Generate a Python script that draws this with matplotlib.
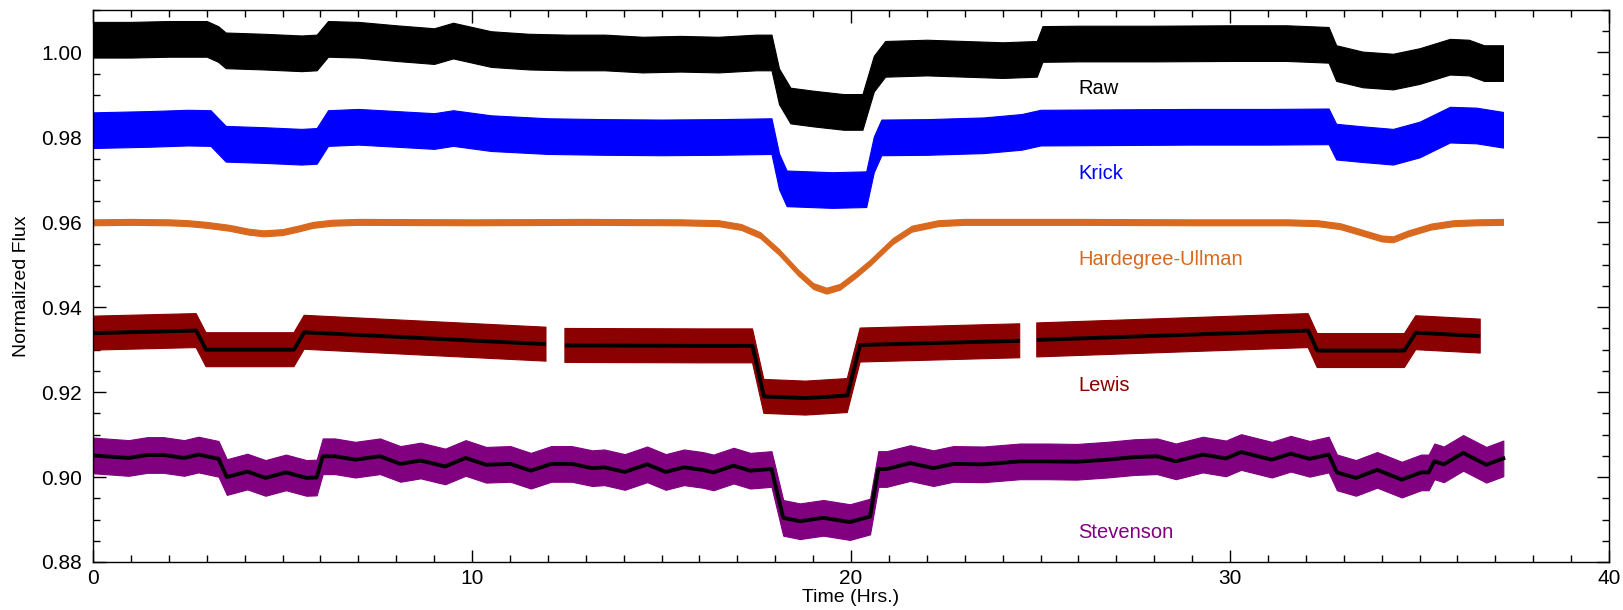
import numpy as np
import matplotlib
matplotlib.use("Agg")
import matplotlib.pyplot as plt
from matplotlib.ticker import MultipleLocator, FormatStrFormatter

plt.rcParams["font.family"] = ["Liberation Sans", "DejaVu Sans"]

# ---- light-curve bands: knot times (hr), band centre flux, band half-width ----
raw_t = [0.0, 1.0, 2.0, 3.0, 3.3, 3.5, 4.5, 5.5, 5.9, 6.2, 7.0, 8.0, 9.0, 9.5,
         10.5, 11.5, 12.5, 13.5, 14.5, 15.5, 16.5, 17.5, 17.9, 18.1, 18.4, 19.0,
         19.8, 20.3, 20.6, 20.9, 22.0, 23.0, 24.0, 24.9, 25.05, 26.0, 28.0, 30.0,
         31.5, 32.6, 32.8, 33.5, 34.3, 35.0, 35.8, 36.3, 36.7, 37.2]
raw_f = [1.0030, 1.0030, 1.0032, 1.0032, 1.0020, 1.0005, 1.0002, 0.9998, 1.0000,
         1.0032, 1.0030, 1.0022, 1.0015, 1.0028, 1.0008, 1.0002, 1.0000, 1.0000,
         0.9995, 0.9997, 0.9995, 1.0000, 1.0000, 0.9920, 0.9875, 0.9868, 0.9860,
         0.9860, 0.9950, 0.9985, 0.9988, 0.9985, 0.9982, 0.9985, 1.0020, 1.0021,
         1.0021, 1.0022, 1.0022, 1.0018, 0.9975, 0.9960, 0.9955, 0.9968, 0.9990,
         0.9988, 0.9975, 0.9975]
raw_w = 0.0042

krick_t = [0.0, 1.5, 2.5, 3.1, 3.5, 4.5, 5.5, 5.9, 6.2, 7.0, 8.0, 9.0, 9.5, 10.5,
           12.0, 13.5, 15.0, 16.5, 17.9, 18.1, 18.3, 19.5, 20.4, 20.6, 20.8, 22.0,
           23.5, 24.5, 25.0, 27.0, 29.0, 31.0, 32.6, 32.8, 33.5, 34.3, 35.0, 35.8,
           36.5, 37.2]
krick_f = [0.9817, 0.9820, 0.9823, 0.9822, 0.9785, 0.9782, 0.9778, 0.9780, 0.9822,
           0.9825, 0.9820, 0.9815, 0.9822, 0.9810, 0.9803, 0.9801, 0.9800, 0.9801,
           0.9803, 0.9720, 0.9680, 0.9676, 0.9678, 0.9760, 0.9800, 0.9801, 0.9805,
           0.9813, 0.9823, 0.9824, 0.9825, 0.9825, 0.9826, 0.9790, 0.9784, 0.9778,
           0.9795, 0.9830, 0.9828, 0.9818]
krick_w = 0.0042

hu_t = [0.0, 1.0, 2.0, 2.5, 3.0, 3.6, 4.1, 4.5, 5.0, 5.4, 5.8, 6.3, 7.0, 10.0,
        13.0, 15.5, 16.5, 17.1, 17.6, 18.1, 18.6, 19.0, 19.35, 19.7, 20.1, 20.5,
        21.1, 21.6, 22.3, 23.0, 26.0, 29.0, 31.5, 32.3, 32.9, 33.4, 34.0, 34.3,
        34.7, 35.3, 35.9, 36.5, 37.2]
hu_f = [0.9600, 0.9601, 0.9600, 0.9598, 0.9594, 0.9587, 0.9578, 0.9574, 0.9577,
        0.9585, 0.9594, 0.9599, 0.9601, 0.9600, 0.9601, 0.9600, 0.9598, 0.9589,
        0.9570, 0.9530, 0.9482, 0.9450, 0.9439, 0.9448, 0.9475, 0.9505, 0.9556,
        0.9585, 0.9598, 0.9601, 0.9601, 0.9600, 0.9600, 0.9598, 0.9591, 0.9578,
        0.9562, 0.9560, 0.9574, 0.9590, 0.9598, 0.9600, 0.9601]
hu_w = 0.0007

# Lewis: NaN rows mark the data gaps
lewis_t = [0.0, 2.72, 2.98, 5.30, 5.57, 11.95, 12.2, 12.45, 16.0, 17.4, 17.7, 18.8,
           19.9, 20.24, 24.45, 24.7, 24.9, 32.06, 32.3, 34.6, 34.9, 36.6]
lewis_f = [0.9339, 0.9345, 0.9300, 0.9300, 0.9341, 0.9313, np.nan, 0.9310, 0.9309,
           0.9309, 0.9190, 0.9186, 0.9192, 0.9311, 0.9321, np.nan, 0.9323, 0.9345,
           0.9298, 0.9298, 0.9340, 0.9332]
lewis_w = 0.0040

stev_t = [0.0, 0.94, 1.43, 1.86, 2.40, 2.78, 3.31, 3.53, 4.07, 4.55, 5.09, 5.63,
          5.90, 6.06, 6.38, 6.92, 7.57, 8.11, 8.64, 9.29, 9.83, 10.37, 11.01, 11.55,
          12.09, 12.63, 13.17, 13.49, 14.03, 14.62, 15.11, 15.59, 16.08, 16.37,
          16.9, 17.34, 17.9, 18.21, 18.65, 19.27, 19.97, 20.50, 20.72, 20.94, 21.56,
          22.17, 22.7, 23.5, 24.46, 25.2, 25.95, 26.76, 27.47, 28.07, 28.57, 29.28,
          29.89, 30.29, 31.1, 31.6, 32.1, 32.6, 32.82, 33.32, 33.88, 34.53, 35.04,
          35.24, 35.39, 35.64, 36.15, 36.76, 37.21]
stev_f = [0.9051, 0.9045, 0.9052, 0.9052, 0.9045, 0.9053, 0.9043, 0.9000, 0.9013,
          0.8998, 0.9011, 0.8998, 0.8999, 0.9049, 0.9049, 0.9041, 0.9049, 0.9031,
          0.9039, 0.9025, 0.9045, 0.9029, 0.9031, 0.9015, 0.9031, 0.9031, 0.9021,
          0.9023, 0.9012, 0.9030, 0.9012, 0.9023, 0.9017, 0.9011, 0.9027, 0.9015,
          0.9019, 0.8904, 0.8896, 0.8904, 0.8894, 0.8907, 0.9019, 0.9019, 0.9033,
          0.9021, 0.9031, 0.9030, 0.9037, 0.9037, 0.9036, 0.9041, 0.9047, 0.9049,
          0.9037, 0.9053, 0.9044, 0.9059, 0.9041, 0.9055, 0.9043, 0.9053, 0.9011,
          0.8998, 0.9017, 0.8994, 0.9011, 0.9011, 0.9037, 0.9030, 0.9057, 0.9029,
          0.9044]
stev_w = 0.0042

names = ["Raw", "Krick", "Hardegree-Ullman", "Lewis", "Stevenson"]
label_y = [0.9915, 0.9716, 0.9513, 0.9215, 0.8869]
label_x = 26.0
colors = ["black", "#0000ff", "#d9691e", "#8b0000", "#800080"]

fig = plt.figure(figsize=(16.24, 6.10), dpi=100)
ax = fig.add_axes([0.0573, 0.0787, 0.9335, 0.9049])

bands = [(raw_t, raw_f, raw_w), (krick_t, krick_f, krick_w), (hu_t, hu_f, hu_w),
         (lewis_t, lewis_f, lewis_w), (stev_t, stev_f, stev_w)]
for (t, f, w), c in zip(bands, colors):
    t = np.array(t)
    f = np.array(f, dtype=float)
    ax.fill_between(t, f - w, f + w, color=c, lw=0.8, edgecolor=c, zorder=2)

# model fits
ax.plot(lewis_t, lewis_f, color="black", lw=2.8, zorder=3, solid_capstyle="butt")
ax.plot(stev_t, stev_f, color="black", lw=2.8, zorder=3, solid_joinstyle="round")

for name, y, c in zip(names, label_y, colors):
    ax.text(label_x, y, name, color=c, fontsize=14.5, ha="left", va="center")

ax.set_xlim(0, 40)
ax.set_ylim(0.88, 1.01)
ax.xaxis.set_major_locator(MultipleLocator(10))
ax.xaxis.set_minor_locator(MultipleLocator(1))
ax.yaxis.set_major_locator(MultipleLocator(0.02))
ax.yaxis.set_minor_locator(MultipleLocator(0.005))
ax.yaxis.set_major_formatter(FormatStrFormatter("%.2f"))
ax.tick_params(which="both", direction="in", top=True, right=True, width=1.0,
               labelsize=15)
ax.tick_params(which="major", length=9)
ax.tick_params(which="minor", length=5)
ax.tick_params(axis="y", pad=8)
ax.tick_params(axis="x", pad=5)
for s in ax.spines.values():
    s.set_linewidth(1.0)

ax.set_xlabel("Time (Hrs.)", fontsize=14, labelpad=1)
ax.set_ylabel("Normalized Flux", fontsize=14, labelpad=8)

fig.savefig("out.png", dpi=100)
